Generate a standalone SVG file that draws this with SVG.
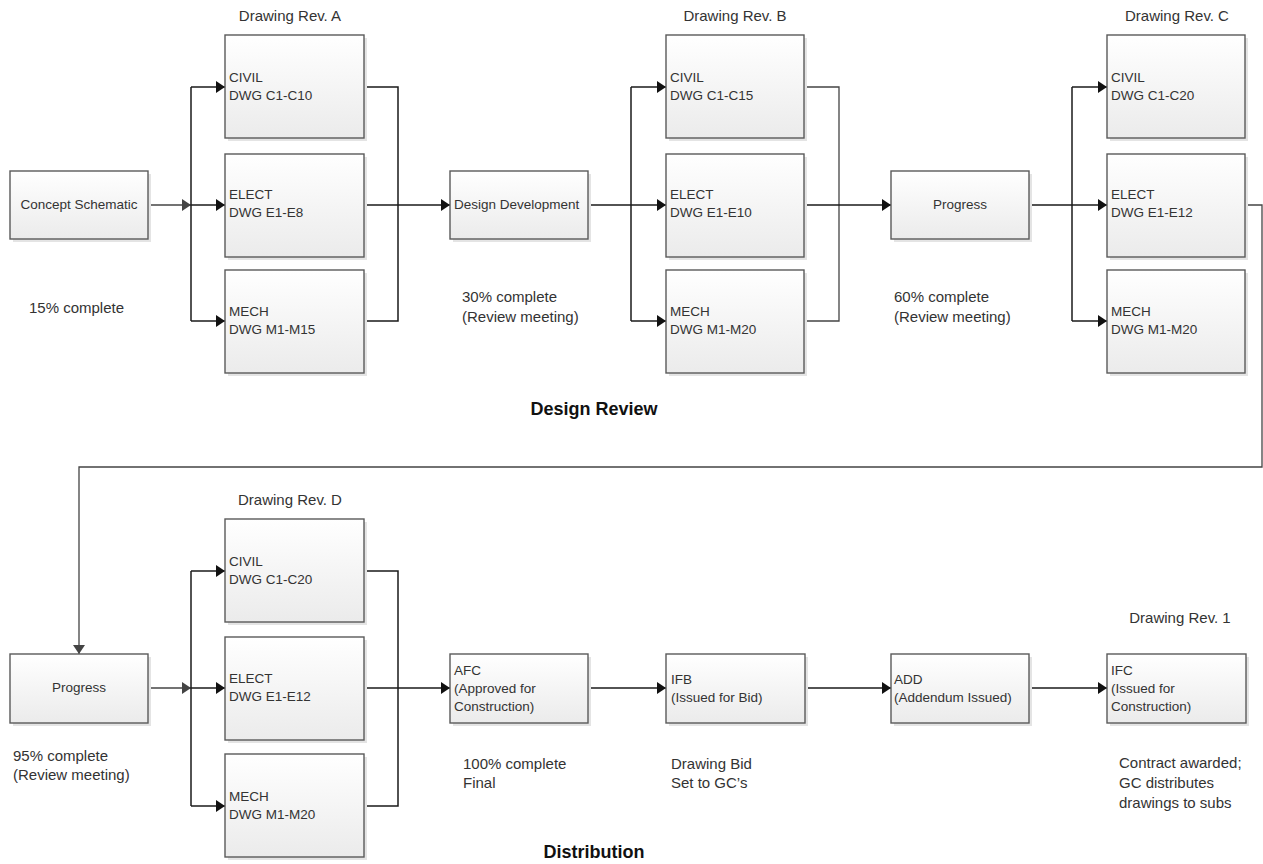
<svg xmlns="http://www.w3.org/2000/svg" width="1263" height="864" viewBox="0 0 1263 864">
  <defs>
    <linearGradient id="boxFill" x1="0" y1="0" x2="0" y2="1">
      <stop offset="0" stop-color="#ffffff"/>
      <stop offset="1" stop-color="#ebebeb"/>
    </linearGradient>
    <marker id="arrow" markerUnits="userSpaceOnUse" markerWidth="10" markerHeight="12" refX="9" refY="6" orient="auto">
      <path d="M0,0 L9,6 L0,12 Z" fill="#111"/>
    </marker>
    <marker id="arrowGray" markerUnits="userSpaceOnUse" markerWidth="10" markerHeight="12" refX="9" refY="6" orient="auto">
      <path d="M0,0 L9,6 L0,12 Z" fill="#444"/>
    </marker>
  </defs>
  <style>
    .shadow { fill: #e4e4e4; }
    .box { fill: url(#boxFill); stroke: #5a5a5a; stroke-width: 1.4; }
    .t { font-family: "Liberation Sans", Arial, sans-serif; font-size: 13.5px; fill: #333; }
    .c { text-anchor: middle; }
    .lbl { font-family: "Liberation Sans", Arial, sans-serif; font-size: 15px; fill: #333; }
    .title { font-family: "Liberation Sans", Arial, sans-serif; font-size: 18px; font-weight: bold; fill: #111; text-anchor: middle; }
    .ln { fill: none; stroke: #1a1a1a; stroke-width: 1.5; }
    .lg { fill: none; stroke: #444; stroke-width: 1.3; }
    .arr { marker-end: url(#arrow); }
    .arg { marker-end: url(#arrowGray); }
  </style>

  <!-- connectors -->
  <g id="connectors">
    <!-- Concept Schematic to Rev. A -->
    <path class="lg arg" d="M148,205 H191"/>
    <path class="ln" d="M191,87 V321"/>
    <path class="ln arr" d="M191,87 H225"/>
    <path class="ln arr" d="M191,205 H225"/>
    <path class="ln arr" d="M191,321 H225"/>
    <path class="ln" d="M364,87 H398 V321 H364"/>
    <path class="ln arr" d="M364,205 H450"/>
    <!-- Design Development to Rev. B -->
    <path class="ln" d="M588,205 H631"/>
    <path class="ln" d="M631,87 V321"/>
    <path class="ln arr" d="M631,87 H666"/>
    <path class="ln arr" d="M631,205 H666"/>
    <path class="ln arr" d="M631,321 H666"/>
    <path class="lg" d="M804,87 H839 V321 H804"/>
    <path class="ln arr" d="M804,205 H891"/>
    <!-- Progress to Rev. C -->
    <path class="ln" d="M1029,205 H1072"/>
    <path class="ln" d="M1072,87 V321"/>
    <path class="ln arr" d="M1072,87 H1107"/>
    <path class="ln arr" d="M1072,205 H1107"/>
    <path class="ln arr" d="M1072,321 H1107"/>
    <!-- wrap to second row -->
    <path class="lg arg" d="M1245,205 H1262 V467 H79 V654"/>
    <!-- Progress to Rev. D -->
    <path class="lg arg" d="M148,688 H191"/>
    <path class="ln" d="M191,571 V806"/>
    <path class="ln arr" d="M191,571 H225"/>
    <path class="ln arr" d="M191,688 H225"/>
    <path class="ln arr" d="M191,806 H225"/>
    <path class="ln" d="M364,571 H398 V806 H364"/>
    <path class="ln arr" d="M364,688 H450"/>
    <!-- distribution chain -->
    <path class="ln arr" d="M588,688 H666"/>
    <path class="ln arr" d="M805,688 H891"/>
    <path class="ln arr" d="M1029,688 H1107"/>
  </g>

  <!-- first row -->
  <g id="concept">
    <rect class="shadow" x="13" y="174" width="138" height="68"/>
    <rect class="box" x="10" y="171" width="138" height="68"/>
    <text class="t c" x="79" y="209">Concept Schematic</text>
  </g>
  <g id="civilA">
    <rect class="shadow" x="228" y="38" width="139" height="103"/>
    <rect class="box" x="225" y="35" width="139" height="103"/>
    <text class="t" x="229" y="82">CIVIL</text>
    <text class="t" x="229" y="100">DWG C1-C10</text>
  </g>
  <g id="electA">
    <rect class="shadow" x="228" y="157" width="139" height="103"/>
    <rect class="box" x="225" y="154" width="139" height="103"/>
    <text class="t" x="229" y="199">ELECT</text>
    <text class="t" x="229" y="217">DWG E1-E8</text>
  </g>
  <g id="mechA">
    <rect class="shadow" x="228" y="273" width="139" height="103"/>
    <rect class="box" x="225" y="270" width="139" height="103"/>
    <text class="t" x="229" y="316">MECH</text>
    <text class="t" x="229" y="334">DWG M1-M15</text>
  </g>
  <g id="designDev">
    <rect class="shadow" x="453" y="174" width="138" height="68"/>
    <rect class="box" x="450" y="171" width="138" height="68"/>
    <text class="t" x="454" y="209">Design Development</text>
  </g>
  <g id="civilB">
    <rect class="shadow" x="669" y="38" width="138" height="103"/>
    <rect class="box" x="666" y="35" width="138" height="103"/>
    <text class="t" x="670" y="82">CIVIL</text>
    <text class="t" x="670" y="100">DWG C1-C15</text>
  </g>
  <g id="electB">
    <rect class="shadow" x="669" y="157" width="138" height="103"/>
    <rect class="box" x="666" y="154" width="138" height="103"/>
    <text class="t" x="670" y="199">ELECT</text>
    <text class="t" x="670" y="217">DWG E1-E10</text>
  </g>
  <g id="mechB">
    <rect class="shadow" x="669" y="273" width="138" height="103"/>
    <rect class="box" x="666" y="270" width="138" height="103"/>
    <text class="t" x="670" y="316">MECH</text>
    <text class="t" x="670" y="334">DWG M1-M20</text>
  </g>
  <g id="progress1">
    <rect class="shadow" x="894" y="174" width="138" height="68"/>
    <rect class="box" x="891" y="171" width="138" height="68"/>
    <text class="t c" x="960" y="209">Progress</text>
  </g>
  <g id="civilC">
    <rect class="shadow" x="1110" y="38" width="138" height="103"/>
    <rect class="box" x="1107" y="35" width="138" height="103"/>
    <text class="t" x="1111" y="82">CIVIL</text>
    <text class="t" x="1111" y="100">DWG C1-C20</text>
  </g>
  <g id="electC">
    <rect class="shadow" x="1110" y="157" width="138" height="103"/>
    <rect class="box" x="1107" y="154" width="138" height="103"/>
    <text class="t" x="1111" y="199">ELECT</text>
    <text class="t" x="1111" y="217">DWG E1-E12</text>
  </g>
  <g id="mechC">
    <rect class="shadow" x="1110" y="273" width="138" height="103"/>
    <rect class="box" x="1107" y="270" width="138" height="103"/>
    <text class="t" x="1111" y="316">MECH</text>
    <text class="t" x="1111" y="334">DWG M1-M20</text>
  </g>

  <!-- second row -->
  <g id="progress2">
    <rect class="shadow" x="13" y="657" width="138" height="69"/>
    <rect class="box" x="10" y="654" width="138" height="69"/>
    <text class="t c" x="79" y="692">Progress</text>
  </g>
  <g id="civilD">
    <rect class="shadow" x="228" y="522" width="139" height="103"/>
    <rect class="box" x="225" y="519" width="139" height="103"/>
    <text class="t" x="229" y="566">CIVIL</text>
    <text class="t" x="229" y="584">DWG C1-C20</text>
  </g>
  <g id="electD">
    <rect class="shadow" x="228" y="640" width="139" height="103"/>
    <rect class="box" x="225" y="637" width="139" height="103"/>
    <text class="t" x="229" y="683">ELECT</text>
    <text class="t" x="229" y="701">DWG E1-E12</text>
  </g>
  <g id="mechD">
    <rect class="shadow" x="228" y="757" width="139" height="103"/>
    <rect class="box" x="225" y="754" width="139" height="103"/>
    <text class="t" x="229" y="801">MECH</text>
    <text class="t" x="229" y="819">DWG M1-M20</text>
  </g>
  <g id="afc">
    <rect class="shadow" x="453" y="657" width="138" height="69"/>
    <rect class="box" x="450" y="654" width="138" height="69"/>
    <text class="t" x="454" y="675">AFC</text>
    <text class="t" x="454" y="693">(Approved for</text>
    <text class="t" x="454" y="711">Construction)</text>
  </g>
  <g id="ifb">
    <rect class="shadow" x="669" y="657" width="139" height="69"/>
    <rect class="box" x="666" y="654" width="139" height="69"/>
    <text class="t" x="671" y="684">IFB</text>
    <text class="t" x="671" y="702">(Issued for Bid)</text>
  </g>
  <g id="add">
    <rect class="shadow" x="894" y="657" width="138" height="69"/>
    <rect class="box" x="891" y="654" width="138" height="69"/>
    <text class="t" x="894" y="684">ADD</text>
    <text class="t" x="894" y="702">(Addendum Issued)</text>
  </g>
  <g id="ifc">
    <rect class="shadow" x="1110" y="657" width="139" height="69"/>
    <rect class="box" x="1107" y="654" width="139" height="69"/>
    <text class="t" x="1111" y="675">IFC</text>
    <text class="t" x="1111" y="693">(Issued for</text>
    <text class="t" x="1111" y="711">Construction)</text>
  </g>

  <!-- annotations -->
  <g id="labels">
    <text class="lbl c" x="290" y="21">Drawing Rev. A</text>
    <text class="lbl c" x="735" y="21">Drawing Rev. B</text>
    <text class="lbl c" x="1177" y="21">Drawing Rev. C</text>
    <text class="lbl c" x="290" y="505">Drawing Rev. D</text>
    <text class="lbl c" x="1180" y="623">Drawing Rev. 1</text>
    <text class="lbl" x="29" y="313">15% complete</text>
    <text class="lbl" x="462" y="302">30% complete</text>
    <text class="lbl" x="462" y="322">(Review meeting)</text>
    <text class="lbl" x="894" y="302">60% complete</text>
    <text class="lbl" x="894" y="322">(Review meeting)</text>
    <text class="lbl" x="13" y="761">95% complete</text>
    <text class="lbl" x="13" y="780">(Review meeting)</text>
    <text class="lbl" x="463" y="769">100% complete</text>
    <text class="lbl" x="463" y="788">Final</text>
    <text class="lbl" x="671" y="769">Drawing Bid</text>
    <text class="lbl" x="671" y="788">Set to GC’s</text>
    <text class="lbl" x="1119" y="768">Contract awarded;</text>
    <text class="lbl" x="1119" y="788">GC distributes</text>
    <text class="lbl" x="1119" y="808">drawings to subs</text>
    <text class="title" x="594" y="415">Design Review</text>
    <text class="title" x="594" y="858">Distribution</text>
  </g>
</svg>
